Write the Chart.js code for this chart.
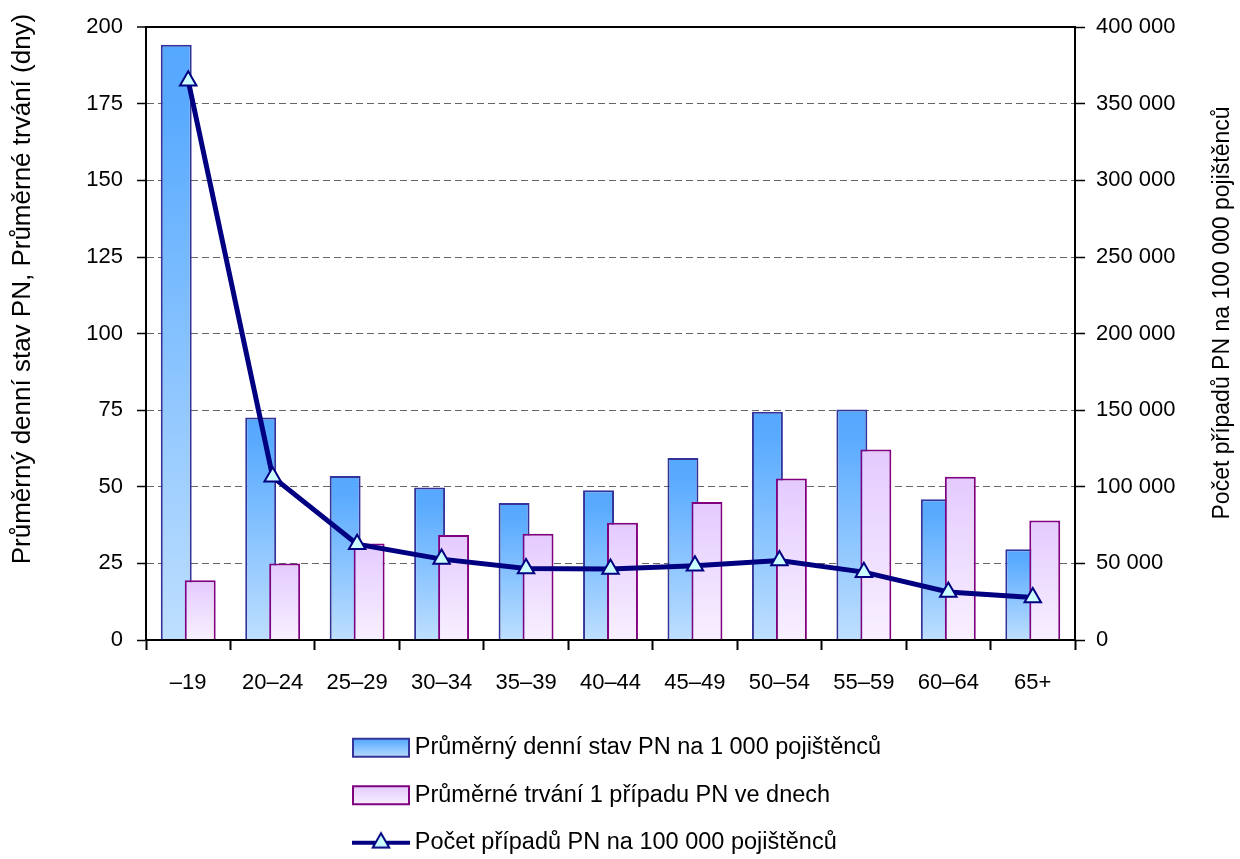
<!DOCTYPE html>
<html lang="cs">
<head>
<meta charset="utf-8">
<title>Pracovní neschopnost podle věku</title>
<script src="https://cdn.jsdelivr.net/npm/chart.js@4.4.1/dist/chart.umd.min.js"></script>
<style>
  html, body { margin: 0; padding: 0; background: #ffffff; }
  #wrap { width: 1240px; height: 859px; }
</style>
</head>
<body>
<div id="wrap"><canvas id="chart" width="1240" height="859"></canvas></div>
<script>
// Age groups
const categories = ['–19', '20–24', '25–29', '30–34', '35–39', '40–44', '45–49', '50–54', '55–59', '60–64', '65+'];
// Average daily number of sick-leave cases per 1 000 insured (left axis)
const dailyRate = [194.3, 72.6, 53.5, 49.8, 44.7, 48.9, 59.4, 74.5, 75.2, 45.9, 29.6];
// Average duration of one case in days (left axis)
const avgDuration = [19.5, 25.0, 31.5, 34.3, 34.7, 38.3, 45.0, 52.7, 62.2, 53.3, 39.0];
// Number of cases per 100 000 insured (right axis)
const casesPer100k = [365000, 106500, 62500, 52800, 46700, 46300, 48400, 51900, 44300, 31300, 27800];

const seriesNames = [
  'Průměrný denní stav PN na 1 000 pojištěnců',
  'Průměrné trvání 1 případu PN ve dnech',
  'Počet případů PN na 100 000 pojištěnců'
];
const leftTitle = 'Průměrný denní stav PN, Průměrné trvání (dny)';
const rightTitle = 'Počet případů PN na 100 000 pojištěnců';

const FONT = '"Liberation Sans", Arial, sans-serif';
const NAVY = '#000080';
const BLUE_EDGE = '#333399';
const PURPLE_EDGE = '#800080';

const blueStops = [[0, '#55A8FF'], [0.12, '#5AABFF'], [1, '#BEDFFF']];
const pinkStops = [[0, '#E4CAFF'], [1, '#F8F0FF']];

function fillGradient(g, top, bottom, stops) {
  const grad = g.createLinearGradient(0, top, 0, bottom);
  stops.forEach(([p, c]) => grad.addColorStop(p, c));
  return grad;
}

// Each bar gets its own vertical gradient, from its top down to the baseline
function barGradient(stops) {
  return (ctx) => {
    if (ctx.type !== 'data') return stops[0][1];
    const chart = ctx.chart;
    const y = chart.scales.y;
    if (!y) return stops[0][1];
    const top = y.getPixelForValue(ctx.raw);
    const bottom = y.getPixelForValue(0);
    if (!isFinite(top) || !isFinite(bottom) || bottom - top < 1) return stops[0][1];
    return fillGradient(chart.ctx, top, bottom, stops);
  };
}

// Legend layout
const LEGEND_FONT = 23.5;
const LEGEND_PAD = 24;
const SYMBOL_SLOT = 379;
// Legend symbols rendered onto small canvases (used as point styles)
const SYM_W = 403, SYM_H = 30, SYM_X = 340, SYM_BOX = 58;
function legendSymbol(kind) {
  const c = document.createElement('canvas');
  c.width = SYM_W; c.height = SYM_H;
  const g = c.getContext('2d');
  if (kind === 'line') {
    g.strokeStyle = NAVY; g.lineWidth = 4;
    g.beginPath(); g.moveTo(SYM_X, 15); g.lineTo(SYM_X + SYM_BOX, 15); g.stroke();
    const cx = SYM_X + SYM_BOX / 2, r = 9.5;
    g.beginPath();
    g.moveTo(cx, 15 - r);
    g.lineTo(cx + r * Math.sqrt(3) / 2, 15 + r / 2);
    g.lineTo(cx - r * Math.sqrt(3) / 2, 15 + r / 2);
    g.closePath();
    g.fillStyle = '#CCFFFF'; g.fill();
    g.lineWidth = 2; g.stroke();
  } else {
    const stops = kind === 'blue' ? blueStops : pinkStops;
    g.fillStyle = fillGradient(g, 5, 25, stops);
    g.fillRect(SYM_X, 5, SYM_BOX, 20);
    g.strokeStyle = kind === 'blue' ? BLUE_EDGE : PURPLE_EDGE;
    g.lineWidth = 2;
    g.strokeRect(SYM_X + 1, 6, SYM_BOX - 2, 18);
  }
  return c;
}
const symbols = [legendSymbol('blue'), legendSymbol('pink'), legendSymbol('line')];

function spaced(v) {
  return String(v).replace(/\B(?=(\d{3})+(?!\d))/g, ' ');
}

// Pink bars sit on top of the blue ones where they overlap
const layerOrder = {
  id: 'layerOrder',
  beforeDatasetDraw(chart, args) {
    if (args.index === 2) return false;
  },
  afterDatasetDraw(chart, args) {
    if (args.index === 1) chart.getDatasetMeta(2).controller.draw();
  }
};

// Vertical axis titles, both reading bottom to top
function drawVerticalText(g, text, size, x, y) {
  g.save();
  g.fillStyle = '#000';
  g.textAlign = 'center';
  g.textBaseline = 'middle';
  g.font = size + 'px ' + FONT;
  g.translate(x, y);
  g.rotate(-Math.PI / 2);
  g.fillText(text, 0, 0);
  g.restore();
}
const axisTitles = {
  id: 'axisTitles',
  afterDraw(chart) {
    drawVerticalText(chart.ctx, leftTitle, 26, 23, 289);
    drawVerticalText(chart.ctx, rightTitle, 23, 1223, 313);
  }
};

new Chart(document.getElementById('chart'), {
  type: 'bar',
  data: {
    labels: categories,
    datasets: [
      {
        type: 'line',
        label: seriesNames[2],
        data: casesPer100k,
        yAxisID: 'y1',
        order: 0,
        borderColor: NAVY,
        borderWidth: 5,
        tension: 0,
        pointStyle: 'triangle',
        pointRadius: 9.5,
        pointHoverRadius: 9.5,
        pointBorderWidth: 2,
        pointBackgroundColor: '#CCFFFF',
        pointBorderColor: NAVY
      },
      {
        label: seriesNames[0],
        data: dailyRate,
        yAxisID: 'y',
        order: 1,
        backgroundColor: barGradient(blueStops),
        borderColor: BLUE_EDGE,
        borderWidth: 2,
        categoryPercentage: 0.568,
        barPercentage: 1.29
      },
      {
        label: seriesNames[1],
        data: avgDuration,
        yAxisID: 'y',
        order: 2,
        backgroundColor: barGradient(pinkStops),
        borderColor: PURPLE_EDGE,
        borderWidth: 2,
        categoryPercentage: 0.568,
        barPercentage: 1.29
      }
    ]
  },
  options: {
    responsive: false,
    animation: false,
    devicePixelRatio: 1,
    layout: { padding: { top: 26, left: 0, right: 0, bottom: 0 } },
    scales: {
      x: {
        type: 'category',
        offset: true,
        grid: {
          offset: true,
          drawOnChartArea: false,
          drawTicks: true,
          tickLength: 10,
          tickColor: '#000',
          tickWidth: 2
        },
        border: { display: true, color: '#000', width: 2, z: 1 },
        ticks: {
          color: '#000',
          font: { family: FONT, size: 22 },
          padding: 20,
          maxRotation: 0,
          autoSkip: false
        },
        afterFit(scale) { scale.height = 72; }
      },
      y: {
        position: 'left',
        min: 0,
        max: 200,
        ticks: {
          stepSize: 25,
          color: '#000',
          font: { family: FONT, size: 22 },
          padding: 14
        },
        grid: {
          color: (c) => c.tick.value === 0 ? 'rgba(0,0,0,0)' : (c.tick.value === 200 ? '#000' : '#666'),
          lineWidth: (c) => c.tick.value === 200 ? 2 : 1,
          tickLength: 9,
          tickColor: '#000',
          tickWidth: 1.5
        },
        border: {
          display: true,
          color: '#000',
          width: 2,
          dash: (c) => (c.tick && c.tick.value === 200) ? [] : [7, 4]
        },
        afterFit(scale) { scale.width = 146; }
      },
      y1: {
        position: 'right',
        min: 0,
        max: 400000,
        ticks: {
          stepSize: 50000,
          color: '#000',
          font: { family: FONT, size: 22 },
          padding: 11,
          callback: (v) => spaced(v)
        },
        grid: {
          drawOnChartArea: false,
          tickLength: 10,
          tickColor: '#000',
          tickWidth: 1.5
        },
        border: { display: true, color: '#000', width: 2 },
        afterFit(scale) { scale.width = 165; }
      }
    },
    plugins: {
      tooltip: { enabled: false },
      legend: {
        position: 'bottom',
        align: 'start',
        maxHeight: 147,
        labels: {
          usePointStyle: true,
          pointStyleWidth: SYMBOL_SLOT,
          padding: LEGEND_PAD,
          color: '#000',
          font: { family: FONT, size: LEGEND_FONT },
          generateLabels: () => [0, 1, 2].map((i) => ({
            text: seriesNames[i],
            pointStyle: symbols[i],
            fillStyle: 'rgba(0,0,0,0)',
            strokeStyle: 'rgba(0,0,0,0)',
            lineWidth: 0,
            fontColor: '#000',
            hidden: false,
            datasetIndex: i === 2 ? 0 : i + 1
          }))
        }
      }
    }
  },
  plugins: [layerOrder, axisTitles]
});
</script>
</body>
</html>
